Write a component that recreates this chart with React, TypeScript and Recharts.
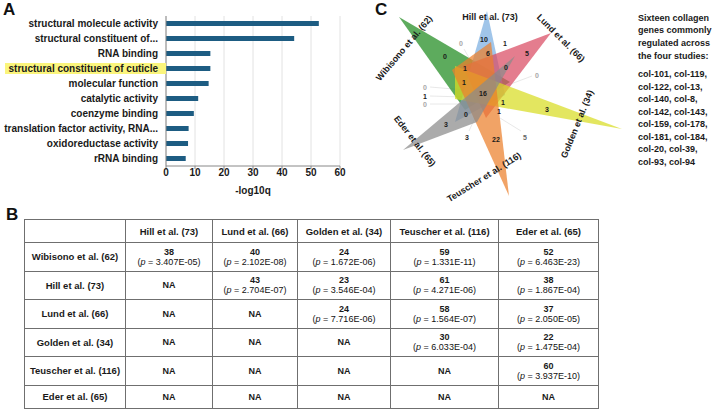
import React from 'react'
import { BarChart, Bar, XAxis, YAxis, CartesianGrid, ScatterChart, Scatter } from 'recharts'

const FONT = '"Liberation Sans", Arial, Helvetica, sans-serif'

// A: GO molecular function terms
const terms = [
  'structural molecule activity',
  'structural constituent of...',
  'RNA binding',
  'structural constituent of cuticle',
  'molecular function',
  'catalytic activity',
  'coenzyme binding',
  'translation factor activity, RNA...',
  'oxidoreductase activity',
  'rRNA binding',
]
const log10q = [52.7, 44.2, 15.3, 15.3, 14.7, 11.1, 9.6, 7.8, 7.6, 6.8]
const highlighted = 'structural constituent of cuticle'
const qTicks = [0, 10, 20, 30, 40, 50, 60]

// B: pairwise overlaps
const studies = [
  'Wibisono et al. (62)',
  'Hill et al. (73)',
  'Lund et al. (66)',
  'Golden et al. (34)',
  'Teuscher et al. (116)',
  'Eder et al. (65)',
]
const overlapCounts = [
  [38, 40, 24, 59, 52],
  [null, 43, 23, 61, 38],
  [null, null, 24, 58, 37],
  [null, null, null, 30, 22],
  [null, null, null, null, 60],
  [null, null, null, null, null],
]
const overlapP = [
  ['3.407E-05', '2.102E-08', '1.672E-06', '1.331E-11', '6.463E-23'],
  [null, '2.704E-07', '3.546E-04', '4.271E-06', '1.867E-04'],
  [null, null, '7.716E-06', '1.564E-07', '2.050E-05'],
  [null, null, null, '6.033E-04', '1.475E-04'],
  [null, null, null, null, '3.937E-10'],
  [null, null, null, null, null],
]

// C: six-set triangle venn (diagram units)
const setColors = ['#1f8a1f', '#7bafe0', '#d94b63', '#d8dd23', '#eb802b', '#8b8b8b']
const triangleX = [
  [39, 150, 105],
  [127, 145, 95],
  [191, 103, 126],
  [262, 95, 95],
  [149, 92, 131],
  [43, 155, 117],
]
const triangleY = [
  [17, 82, 110],
  [11, 95, 122],
  [33, 66, 118],
  [129, 66, 99],
  [196, 70, 42],
  [150, 56, 122],
]
const setLabelX = [44, 130, 201, 217, 124, 55]
const setLabelY = [48, 17, 38, 124, 177, 141]
const setLabelAngle = [-50, 0, 45, -68, -32, 52]

const regionCounts = ['0', '10', '1', '0', '6', '5', '1', '0', '0', '1', '16', '1', '1', '0', '3', '0', '1', '0', '3', '3', '22', '5']
const regionX = [101, 124, 145, 85, 128, 167, 105, 146, 177, 104, 123, 143, 139, 106, 86, 65, 65, 65, 187, 107, 136, 165]
const regionY = [43, 39, 43, 56, 53, 53, 68, 67, 75, 82, 93, 102, 111, 114, 124, 87, 96, 104, 109, 137, 139, 137]
const regionTone = ['faint', 'dark', 'dark', 'dark', 'dark', 'dark', 'dark', 'dark', 'faint', 'dark', 'dark', 'dark', 'dark', 'dark', 'dark', 'faint', 'dark', 'faint', 'dark', 'dark', 'dark', 'mid']

const leaderX = [[104, 116], [172, 148], [70, 105], [70, 104], [70, 102], [109, 115], [161, 140]]
const leaderY = [[49, 70], [76, 85], [87, 90], [96, 97], [104, 104], [131, 118], [131, 118]]

const collagenGenes = [
  'col-101, col-119,',
  'col-122, col-13,',
  'col-140, col-8,',
  'col-142, col-143,',
  'col-159, col-178,',
  'col-181, col-184,',
  'col-20, col-39,',
  'col-93, col-94',
]

const barData = terms.map((term, i) => ({ term, q: log10q[i] }))

function TermTick(props: any) {
  const { x, y, payload } = props
  const hl = payload.value === highlighted
  return (
    <g>
      {hl && <rect x={5} y={y - 5.5} width={x + 8 - 5} height={11} fill="#fbf57c" />}
      <text x={x} y={y} dy={3.5} textAnchor="end" fontSize={10} fontWeight="bold" fill="#1a1a1a" fontFamily={FONT}>
        {payload.value}
      </text>
    </g>
  )
}

const NoDot = () => <g />

const pathOf = (pts: { x: number; y: number }[]) =>
  pts.map((p, i) => `${i ? 'L' : 'M'}${p.x},${p.y}`).join(' ')

function PanelA() {
  return (
    <BarChart
      width={350}
      height={200}
      data={barData}
      layout="vertical"
      margin={{ top: 16, right: 10, left: 0, bottom: 4 }}
    >
      <CartesianGrid horizontal={false} stroke="#e2e2e2" />
      <XAxis
        type="number"
        domain={[0, 60]}
        ticks={qTicks}
        height={30}
        tickSize={3}
        tickMargin={0}
        axisLine={{ stroke: '#888' }}
        tickLine={{ stroke: '#888' }}
        tick={{ fontSize: 10, fontWeight: 'bold', fill: '#1a1a1a', fontFamily: FONT }}
        label={{ value: '-log10q', position: 'insideBottom', offset: 2, fontSize: 10, fontWeight: 'bold', fill: '#1a1a1a', fontFamily: FONT }}
      />
      <YAxis
        type="category"
        dataKey="term"
        width={166}
        interval={0}
        axisLine={{ stroke: '#888' }}
        tickLine={false}
        tick={<TermTick />}
      />
      <Bar dataKey="q" fill="#1d5c82" barSize={5} isAnimationActive={false} />
    </BarChart>
  )
}

function PanelB() {
  const border = '1px solid #6f6f6f'
  const colW = [101, 87, 85, 93, 108, 100]
  const rowH = [23, 28.5, 28.5, 28.5, 28.5, 28.5, 23.5]
  const cell: React.CSSProperties = { border, textAlign: 'center', verticalAlign: 'middle', padding: 0, color: '#1a1a1a' }
  return (
    <table
      style={{
        position: 'absolute',
        left: 24,
        top: 219,
        width: 574,
        borderCollapse: 'collapse',
        tableLayout: 'fixed',
        fontFamily: FONT,
        border,
      }}
    >
      <colgroup>
        {colW.map((w, i) => (
          <col key={i} style={{ width: w }} />
        ))}
      </colgroup>
      <tbody>
        <tr style={{ height: rowH[0] }}>
          <td style={cell} />
          {studies.slice(1).map((s) => (
            <td key={s} style={{ ...cell, fontSize: 9.5, fontWeight: 'bold' }}>
              {s}
            </td>
          ))}
        </tr>
        {studies.map((s, r) => (
          <tr key={s} style={{ height: rowH[r + 1] }}>
            <td style={{ ...cell, fontSize: 9.5, fontWeight: 'bold' }}>{s}</td>
            {overlapCounts[r].map((n, c) => (
              <td key={c} style={{ ...cell, fontSize: 9, lineHeight: '10px' }}>
                {n === null ? (
                  <span style={{ fontWeight: 'bold' }}>NA</span>
                ) : (
                  <>
                    <div style={{ fontWeight: 'bold' }}>{n}</div>
                    <div style={{ color: '#111' }}>
                      (<i>p</i> = {overlapP[r][c]})
                    </div>
                  </>
                )}
              </td>
            ))}
          </tr>
        ))}
      </tbody>
    </table>
  )
}

function PanelC() {
  const labelData = setLabelX.map((x, i) => ({ x, y: setLabelY[i], name: studies[i], angle: setLabelAngle[i] }))
  const regionData = regionX.map((x, i) => ({ x, y: regionY[i], value: regionCounts[i], tone: regionTone[i] }))
  const toneFill: Record<string, string> = { faint: '#a8a8a8', mid: '#666', dark: '#1a1a1a' }
  return (
    <ScatterChart width={280} height={205} margin={{ top: 0, right: 0, bottom: 0, left: 0 }}>
      <XAxis type="number" dataKey="x" domain={[0, 280]} hide allowDataOverflow />
      <YAxis type="number" dataKey="y" domain={[0, 205]} hide reversed allowDataOverflow />
      {leaderX.map((xs, i) => (
        <Scatter
          key={'l' + i}
          data={xs.map((x, j) => ({ x, y: leaderY[i][j] }))}
          fill="#e4e4e4"
          line={(lp: any) => <path d={pathOf(lp.points)} stroke="#e2e2e2" strokeWidth={0.8} fill="none" />}
          lineType="joint"
          shape={NoDot}
          isAnimationActive={false}
        />
      ))}
      {triangleX.map((xs, i) => (
        <Scatter
          key={'t' + i}
          data={xs.map((x, j) => ({ x, y: triangleY[i][j] }))}
          fill={setColors[i]}
          line={(lp: any) => (
            <path d={pathOf(lp.points) + ' Z'} fill={setColors[i]} fillOpacity={0.72} stroke="none" />
          )}
          lineType="joint"
          shape={NoDot}
          isAnimationActive={false}
        />
      ))}
      <Scatter
        data={regionData}
        fill="#1a1a1a"
        isAnimationActive={false}
        shape={(p: any) => (
          <text
            x={p.cx}
            y={p.cy}
            dy={2.5}
            textAnchor="middle"
            fontSize={7}
            fontWeight="bold"
            fill={toneFill[p.payload.tone]}
            stroke="none"
            fontFamily={FONT}
          >
            {p.payload.value}
          </text>
        )}
      />
      <Scatter
        data={labelData}
        fill="#1a1a1a"
        isAnimationActive={false}
        shape={(p: any) => (
          <text
            x={p.cx}
            y={p.cy}
            dy={3.2}
            textAnchor="middle"
            fontSize={9}
            fontWeight="bold"
            fill="#1a1a1a"
            stroke="none"
            fontFamily={FONT}
            transform={`rotate(${p.payload.angle} ${p.cx} ${p.cy})`}
          >
            {p.payload.name}
          </text>
        )}
      />
    </ScatterChart>
  )
}

const letter: React.CSSProperties = {
  position: 'absolute',
  fontSize: 17,
  fontWeight: 'bold',
  lineHeight: '17px',
  color: '#111',
}

export default function App() {
  return (
    <div
      style={{
        position: 'absolute',
        left: 0,
        top: 0,
        width: 714,
        height: 409,
        background: '#fff',
        fontFamily: FONT,
        overflow: 'hidden',
      }}
    >
      <div style={{ position: 'absolute', left: 0, top: 0 }}>
        <PanelA />
      </div>
      <div style={{ position: 'absolute', left: 360, top: 0 }}>
        <PanelC />
      </div>
      <PanelB />
      <div style={{ ...letter, left: 3, top: 1 }}>A</div>
      <div style={{ ...letter, left: 6, top: 206 }}>B</div>
      <div style={{ ...letter, left: 375, top: 1 }}>C</div>
      <div
        style={{
          position: 'absolute',
          left: 638,
          top: 11.6,
          fontSize: 9,
          fontWeight: 'bold',
          lineHeight: '12.8px',
          color: '#1a1a1a',
          whiteSpace: 'nowrap',
        }}
      >
        <div>Sixteen collagen</div>
        <div>genes commonly</div>
        <div>regulated across</div>
        <div>the four studies:</div>
        <div style={{ marginTop: 5.4, lineHeight: '12.55px' }}>
          {collagenGenes.map((g) => (
            <div key={g}>{g}</div>
          ))}
        </div>
      </div>
    </div>
  )
}
